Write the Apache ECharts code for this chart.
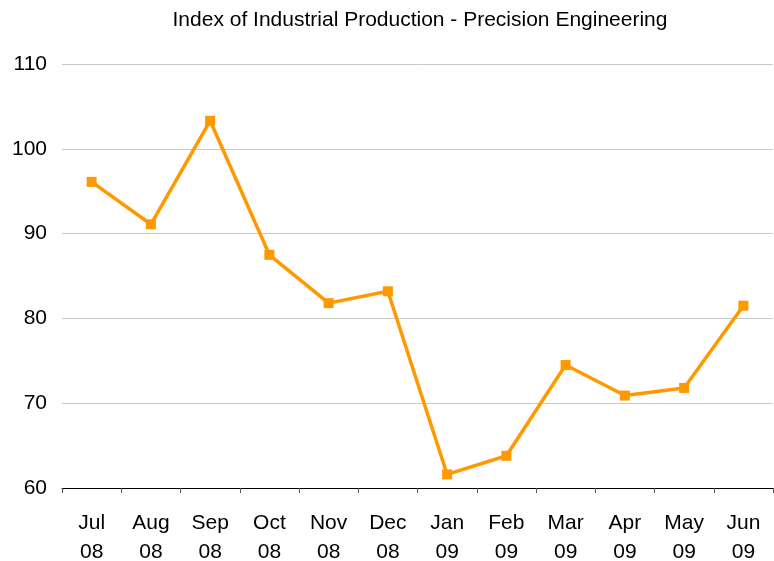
<!DOCTYPE html>
<html>
<head>
<meta charset="utf-8">
<script src="https://cdn.jsdelivr.net/npm/echarts@6/dist/echarts.min.js"></script>
<style>
html, body { margin: 0; padding: 0; background: #fff; }
#chart { width: 774px; height: 561px; }
</style>
</head>
<body>
<div id="chart"></div>
<script>
// month labels, two lines each
const months = ['Jul\n08', 'Aug\n08', 'Sep\n08', 'Oct\n08', 'Nov\n08', 'Dec\n08',
    'Jan\n09', 'Feb\n09', 'Mar\n09', 'Apr\n09', 'May\n09', 'Jun\n09']
// index values
const indexValues = [96.1, 91.1, 103.3, 87.5, 81.8, 83.2, 61.6, 63.8, 74.5, 70.9, 71.8, 81.5]
const yTicks = [60, 70, 80, 90, 100, 110]

const chart = echarts.init(document.getElementById('chart'))
const font = 'Liberation Sans, Arial, Helvetica, sans-serif'
chart.setOption({
    animation: false,
    title: {
        text: 'Index of Industrial Production - Precision Engineering',
        left: 415,
        textAlign: 'center',
        top: 5,
        textStyle: { fontFamily: font, fontSize: 21, fontWeight: 'normal', color: '#000' }
    },
    grid: { left: 62, right: 1, top: 64, bottom: 73, outerBoundsMode: 'none' },
    xAxis: {
        type: 'category',
        data: months,
        boundaryGap: true,
        axisLine: { lineStyle: { color: '#000', width: 1 } },
        axisTick: { show: true, length: 5, lineStyle: { color: '#555' } },
        axisLabel: {
            fontFamily: font, fontSize: 21, color: '#000',
            margin: 21, lineHeight: 29, interval: 0
        },
        splitLine: { show: false }
    },
    yAxis: {
        type: 'value',
        min: yTicks[0],
        max: yTicks[yTicks.length - 1],
        interval: 10,
        axisLine: { show: false },
        axisTick: { show: false },
        axisLabel: { fontFamily: font, fontSize: 21, color: '#000', margin: 15 },
        splitLine: { lineStyle: { color: '#c8c8c8', width: 1 } }
    },
    series: [{
        type: 'line',
        data: indexValues,
        symbol: 'rect',
        symbolSize: 10,
        lineStyle: { color: '#ff9900', width: 3.5 },
        itemStyle: { color: '#ff9900' }
    }]
})
</script>
</body>
</html>
